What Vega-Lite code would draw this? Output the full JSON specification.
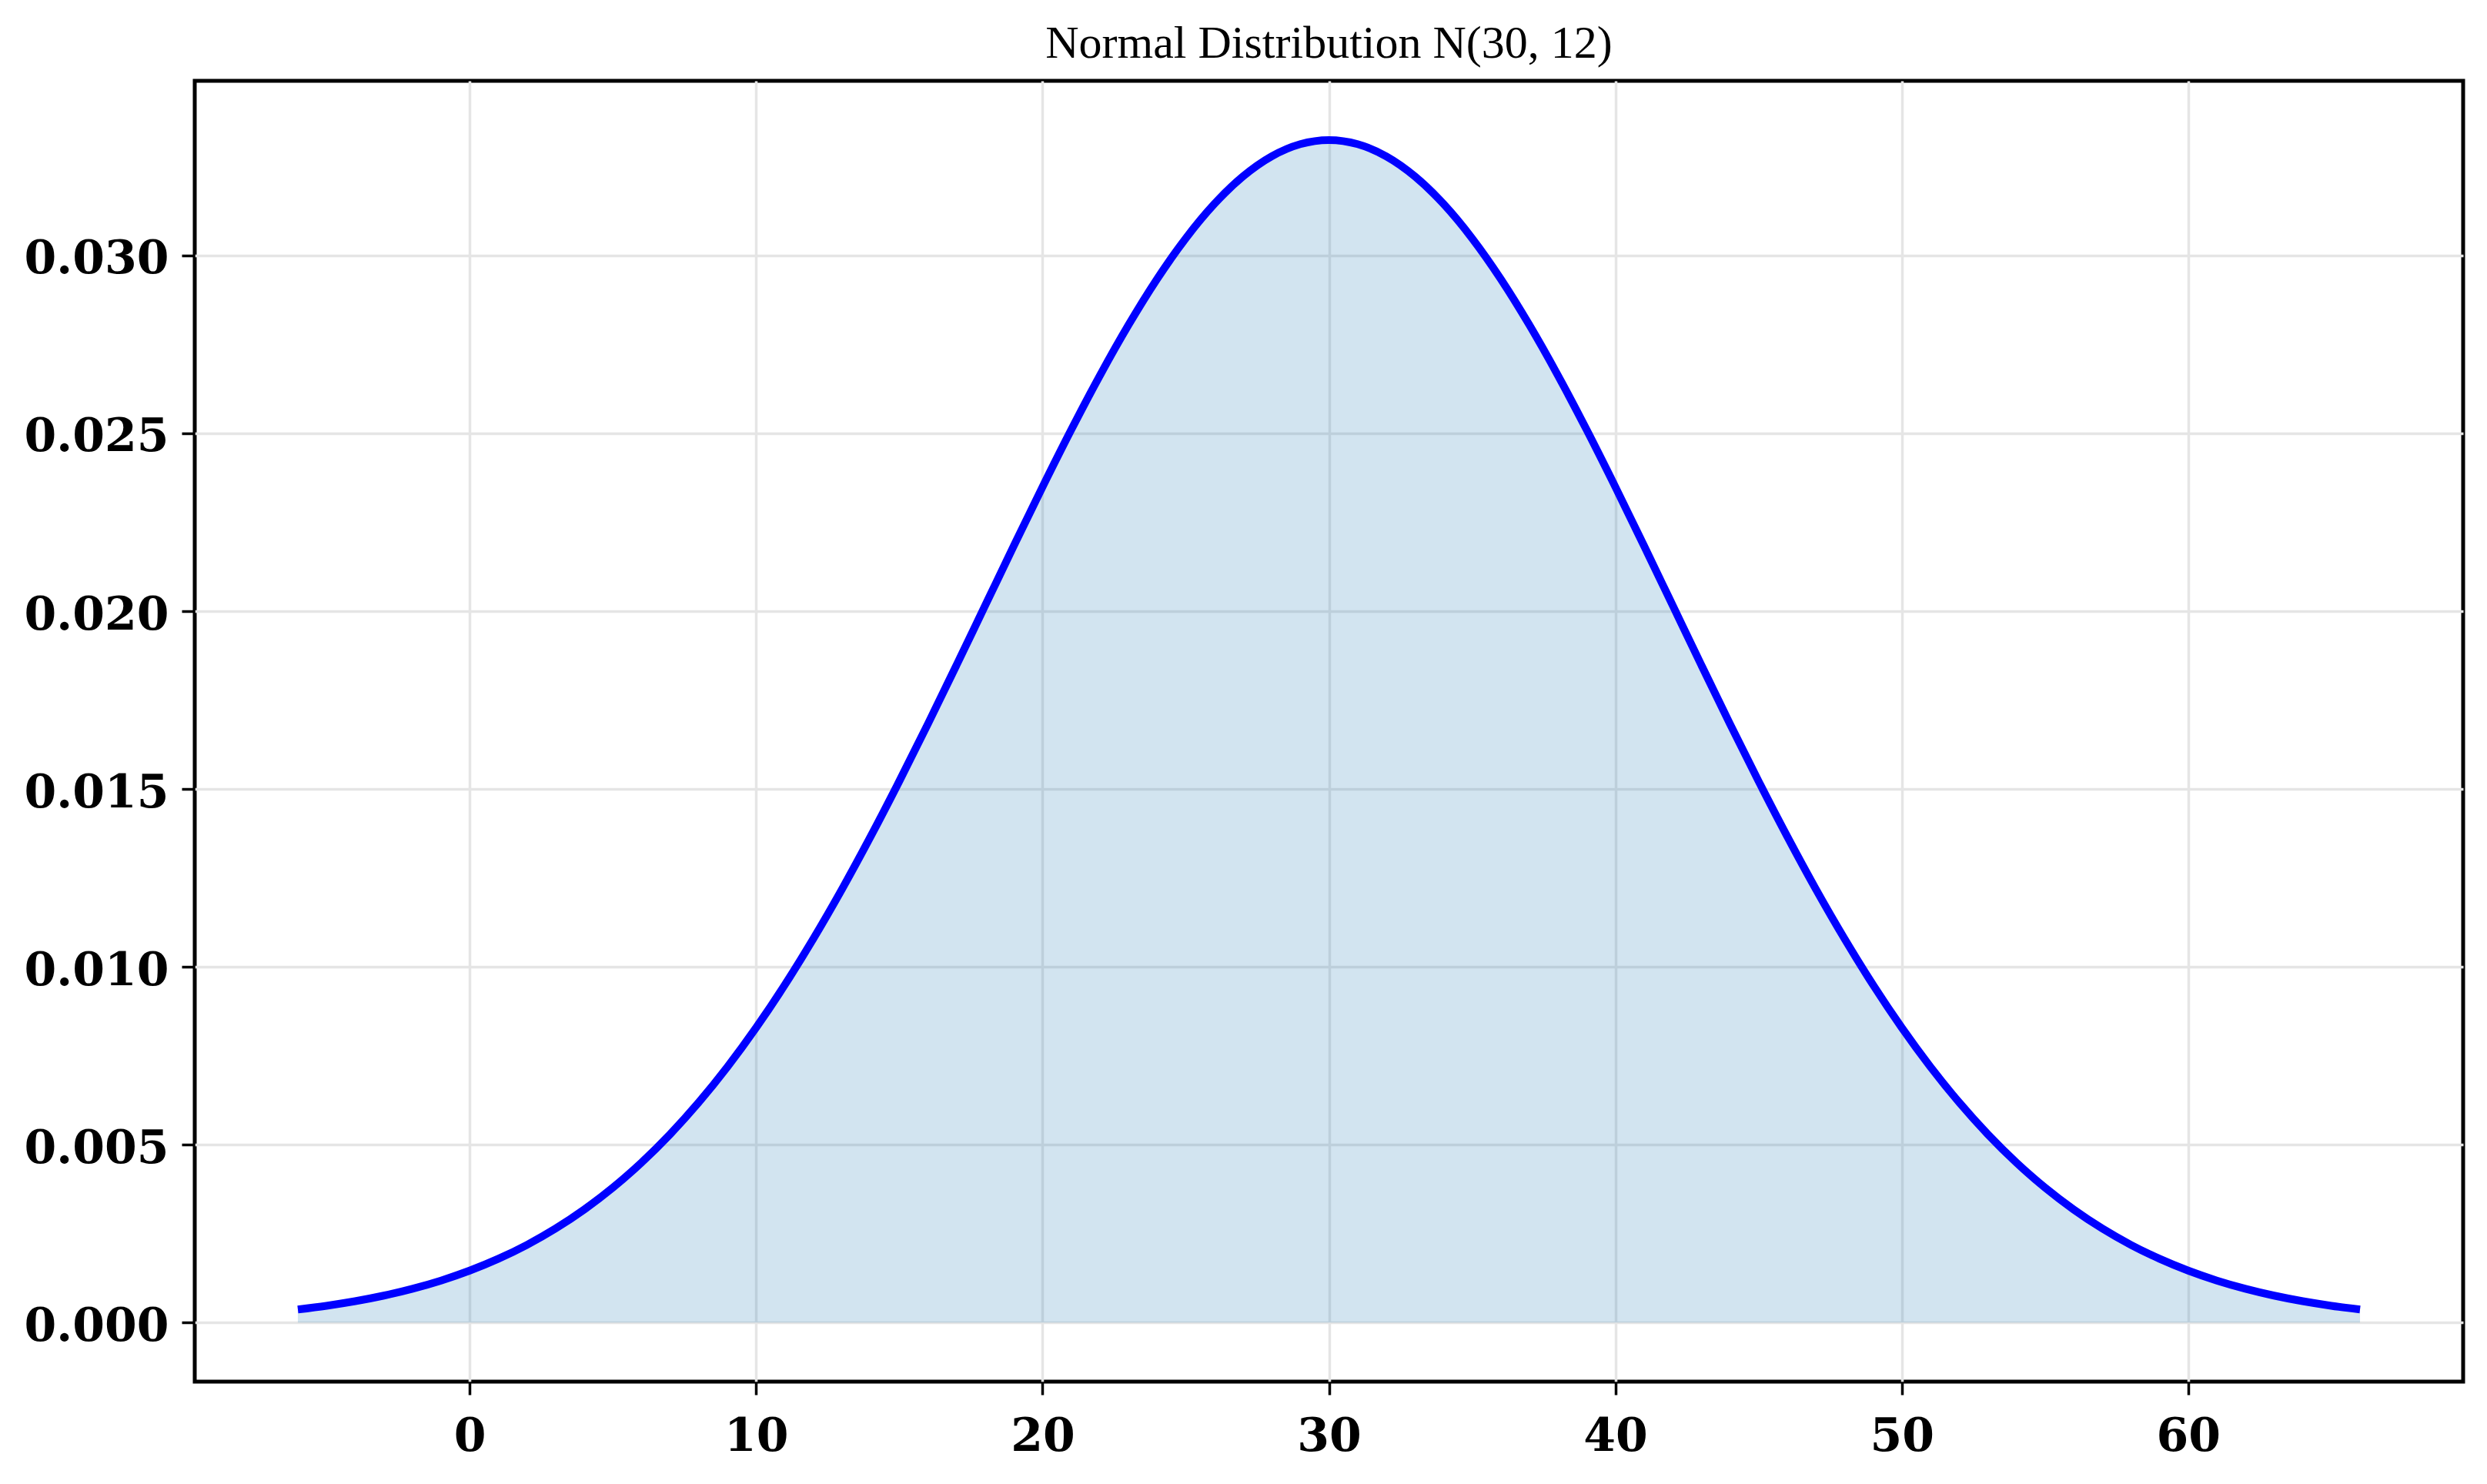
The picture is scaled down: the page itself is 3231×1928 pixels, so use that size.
{
  "$schema": "https://vega.github.io/schema/vega-lite/v6.json",
  "autosize": {"type": "none"},
  "width": 2947,
  "height": 1690,
  "padding": {"left": 253, "top": 105, "right": 31, "bottom": 133},
  "background": "white",
  "title": {
    "text": "Normal Distribution N(30, 12)",
    "font": "Liberation Serif",
    "fontSize": 60,
    "fontWeight": "normal",
    "color": "black",
    "anchor": "middle",
    "frame": "group",
    "baseline": "alphabetic",
    "offset": 27,
    "dy": 57
  },
  "config": {
    "view": {"stroke": "black", "strokeWidth": 5},
    "axis": {
      "domain": false,
      "grid": true,
      "gridColor": "#e5e5e5",
      "gridWidth": 3.5,
      "ticks": true,
      "tickColor": "black",
      "tickWidth": 3.5,
      "tickSize": 17,
      "labelFont": "DejaVu Serif",
      "labelFontSize": 60,
      "labelFontWeight": "bold",
      "labelColor": "black",
      "labelLimit": 500,
      "title": null
    }
  },
  "data": {
    "values": [
      {"x": -6, "density": 0.000369},
      {"x": -5, "density": 0.000473},
      {"x": -4, "density": 0.000601},
      {"x": -3, "density": 0.000758},
      {"x": -2, "density": 0.000950},
      {"x": -1, "density": 0.001182},
      {"x": 0, "density": 0.001461},
      {"x": 1, "density": 0.001793},
      {"x": 2, "density": 0.002185},
      {"x": 3, "density": 0.002645},
      {"x": 4, "density": 0.003179},
      {"x": 5, "density": 0.003795},
      {"x": 6, "density": 0.004499},
      {"x": 7, "density": 0.005297},
      {"x": 8, "density": 0.006193},
      {"x": 9, "density": 0.007190},
      {"x": 10, "density": 0.008290},
      {"x": 11, "density": 0.009492},
      {"x": 12, "density": 0.010793},
      {"x": 13, "density": 0.012187},
      {"x": 14, "density": 0.013668},
      {"x": 15, "density": 0.015221},
      {"x": 16, "density": 0.016833},
      {"x": 17, "density": 0.018488},
      {"x": 18, "density": 0.020164},
      {"x": 19, "density": 0.021841},
      {"x": 20, "density": 0.023493},
      {"x": 21, "density": 0.025095},
      {"x": 22, "density": 0.026621},
      {"x": 23, "density": 0.028044},
      {"x": 24, "density": 0.029339},
      {"x": 25, "density": 0.030481},
      {"x": 26, "density": 0.031449},
      {"x": 27, "density": 0.032223},
      {"x": 28, "density": 0.032787},
      {"x": 29, "density": 0.033130},
      {"x": 30, "density": 0.033245},
      {"x": 31, "density": 0.033130},
      {"x": 32, "density": 0.032787},
      {"x": 33, "density": 0.032223},
      {"x": 34, "density": 0.031449},
      {"x": 35, "density": 0.030481},
      {"x": 36, "density": 0.029339},
      {"x": 37, "density": 0.028044},
      {"x": 38, "density": 0.026621},
      {"x": 39, "density": 0.025095},
      {"x": 40, "density": 0.023493},
      {"x": 41, "density": 0.021841},
      {"x": 42, "density": 0.020164},
      {"x": 43, "density": 0.018488},
      {"x": 44, "density": 0.016833},
      {"x": 45, "density": 0.015221},
      {"x": 46, "density": 0.013668},
      {"x": 47, "density": 0.012187},
      {"x": 48, "density": 0.010793},
      {"x": 49, "density": 0.009492},
      {"x": 50, "density": 0.008290},
      {"x": 51, "density": 0.007190},
      {"x": 52, "density": 0.006193},
      {"x": 53, "density": 0.005297},
      {"x": 54, "density": 0.004499},
      {"x": 55, "density": 0.003795},
      {"x": 56, "density": 0.003179},
      {"x": 57, "density": 0.002645},
      {"x": 58, "density": 0.002185},
      {"x": 59, "density": 0.001793},
      {"x": 60, "density": 0.001461},
      {"x": 61, "density": 0.001182},
      {"x": 62, "density": 0.000950},
      {"x": 63, "density": 0.000758},
      {"x": 64, "density": 0.000601},
      {"x": 65, "density": 0.000473},
      {"x": 66, "density": 0.000369}
    ]
  },
  "encoding": {
    "x": {
      "field": "x",
      "type": "quantitative",
      "scale": {"domain": [-9.6, 69.6], "nice": false, "zero": false},
      "axis": {"values": [0, 10, 20, 30, 40, 50, 60], "labelPadding": 25, "format": "d"}
    },
    "y": {
      "field": "density",
      "type": "quantitative",
      "scale": {"domain": [-0.00166, 0.03491], "nice": false, "zero": false},
      "axis": {"values": [0, 0.005, 0.01, 0.015, 0.02, 0.025, 0.03], "format": ".3f", "labelPadding": 17, "labelOffset": 5}
    }
  },
  "layer": [
    {
      "mark": {"type": "area", "color": "#1f77b4", "opacity": 0.2, "interpolate": "monotone"},
      "encoding": {"y2": {"datum": 0}}
    },
    {
      "mark": {"type": "line", "color": "#0000ff", "strokeWidth": 10, "interpolate": "monotone", "strokeCap": "butt"}
    }
  ]
}
